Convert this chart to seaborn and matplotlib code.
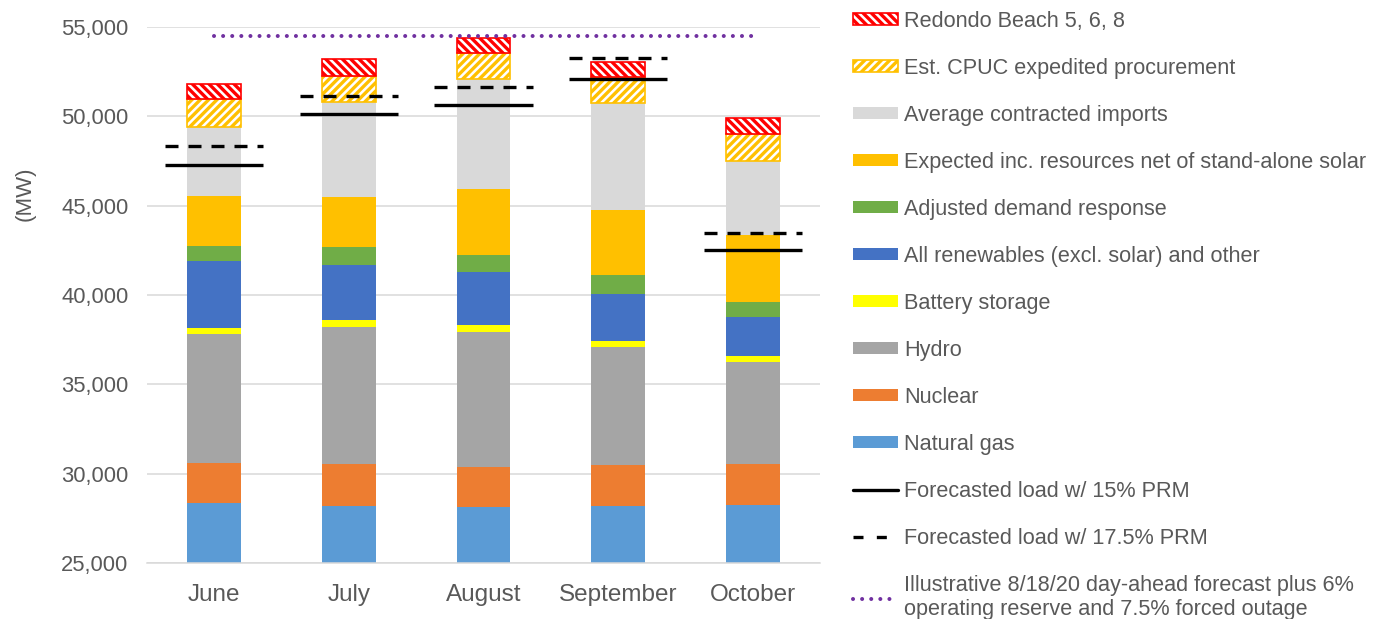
import matplotlib
matplotlib.use("Agg")
import matplotlib.pyplot as plt
from matplotlib.patches import Patch
from matplotlib.lines import Line2D
from matplotlib.ticker import StrMethodFormatter
import numpy as np
import seaborn as sns

MONTHS = ["June", "July", "August", "September", "October"]

# stacked components, bottom to top (MW)
natural_gas = [28350, 28210, 28140, 28210, 28250]
nuclear = [2250, 2320, 2255, 2260, 2280]
hydro = [7220, 7700, 7555, 6620, 5710]
battery = [350, 370, 370, 355, 350]
renewables = [3730, 3080, 2950, 2615, 2200]
demand_response = [850, 990, 970, 1045, 840]
expected_inc = [2790, 2800, 3695, 3635, 3710]
contracted_imports = [3880, 5320, 6135, 5990, 4145]
cpuc_procurement = [1530, 1490, 1490, 1455, 1525]
redondo = [840, 915, 810, 855, 880]

load_15_prm = [47260, 50115, 50620, 52075, 42540]
load_175_prm = [48360, 51160, 51640, 53280, 43455]
day_ahead_forecast = 54500

TEXT = "#595959"

sns.set_style("white")
plt.rcParams["font.family"] = ["Liberation Sans", "DejaVu Sans"]
plt.rcParams["hatch.linewidth"] = 2.4

layers = [
    ("Natural gas", natural_gas, "#5B9BD5", None),
    ("Nuclear", nuclear, "#ED7D31", None),
    ("Hydro", hydro, "#A5A5A5", None),
    ("Battery storage", battery, "#FFFF00", None),
    ("All renewables (excl. solar) and other", renewables, "#4472C4", None),
    ("Adjusted demand response", demand_response, "#70AD47", None),
    ("Expected inc. resources net of stand-alone solar", expected_inc, "#FFC000", None),
    ("Average contracted imports", contracted_imports, "#D9D9D9", None),
    ("Est. CPUC expedited procurement", cpuc_procurement, "#FFC000", "////"),
    ("Redondo Beach 5, 6, 8", redondo, "#FF0000", "\\\\\\\\"),
]

fig = plt.figure(figsize=(13.88, 6.19), dpi=100)
ax = fig.add_axes([147 / 1388, 56 / 619, 673 / 1388, 536 / 619])

bottom = np.zeros(len(MONTHS))
handles = []
for name, vals, color, hatch in layers:
    if hatch:
        sns.barplot(x=MONTHS, y=vals, bottom=bottom, width=0.4, saturation=1,
                    errorbar=None, color=color, facecolor="white", edgecolor=color,
                    hatch=hatch, linewidth=1.2, ax=ax, zorder=2)
        handles.append(Patch(facecolor="white", edgecolor=color, hatch=hatch, lw=1.2, label=name))
    else:
        sns.barplot(x=MONTHS, y=vals, bottom=bottom, width=0.4, saturation=1,
                    errorbar=None, color=color, linewidth=0, ax=ax, zorder=2)
        handles.append(Patch(facecolor=color, edgecolor="none", label=name))
    bottom = bottom + np.array(vals)

handles = handles[::-1]

xpos = np.arange(len(MONTHS))
ax.hlines(load_15_prm, xpos - 0.365, xpos + 0.365, colors="black", lw=2.4, zorder=4)
ax.hlines(load_175_prm, xpos - 0.365, xpos + 0.365, colors="black", lw=2.4,
          linestyles=(0, (3.9, 3.0)), zorder=4)
ax.hlines(day_ahead_forecast, xpos[0], xpos[-1], colors="#7030A0", lw=2.9,
          linestyles=(0, (0.01, 2.25)), capstyle="round", zorder=4)

handles.append(Line2D([], [], color="black", lw=2.4, label="Forecasted load w/ 15% PRM"))
handles.append(Line2D([], [], color="black", lw=2.4, ls=(0, (3.0, 4.0)),
                      label="Forecasted load w/ 17.5% PRM"))
handles.append(Line2D([], [], color="#7030A0", lw=2.9, ls=(0, (0.01, 2.25)),
                      dash_capstyle="round",
                      label="Illustrative 8/18/20 day-ahead forecast plus 6%\n"
                            "operating reserve and 7.5% forced outage"))

ax.set_ylim(25000, 55000)
ax.set_yticks(np.arange(25000, 55001, 5000))
ax.yaxis.set_major_formatter(StrMethodFormatter("{x:,.0f}"))
ax.set_xlim(-0.5, len(MONTHS) - 0.5)
ax.grid(axis="y", color="#D9D9D9", lw=1.1, zorder=0)
ax.grid(axis="x", visible=False)
ax.set_axisbelow(True)
for side in ["top", "right", "left"]:
    ax.spines[side].set_visible(False)
ax.spines["bottom"].set_color("#D9D9D9")
ax.spines["bottom"].set_linewidth(1.1)
ax.tick_params(axis="y", length=0, pad=13.5, labelsize=15.8, labelcolor=TEXT)
ax.tick_params(axis="x", length=0, pad=15, labelsize=17.5, labelcolor=TEXT)
ax.set_xlabel("")
ax.set_ylabel("")

fig.text(25 / 1388, 1 - 194 / 619, "(MW)", rotation=90, ha="center", va="center",
         fontsize=16, color=TEXT)

fig.legend(handles=handles, loc="upper left", bbox_to_anchor=(853 / 1388, 1 - 11 / 619),
           frameon=False, fontsize=15.6, labelcolor=TEXT, borderpad=0, borderaxespad=0,
           handlelength=2.1, handleheight=0.5, handletextpad=0.25, labelspacing=1.2)

fig.savefig("out.png", dpi=100)
